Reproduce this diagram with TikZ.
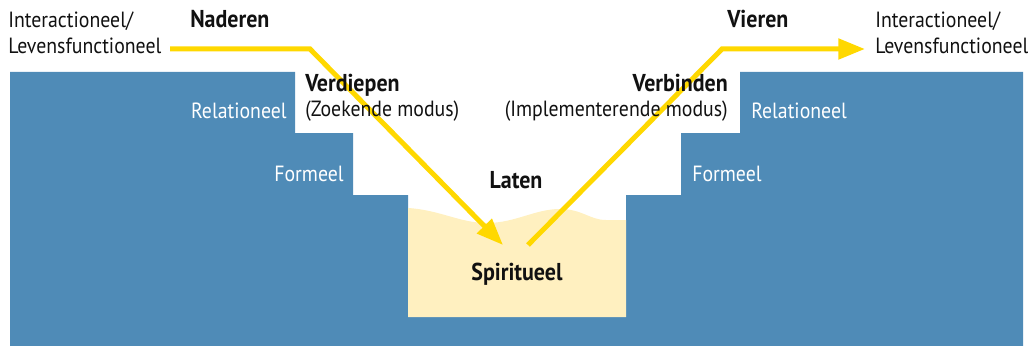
\documentclass[tikz,border=0pt]{standalone}
\usepackage{fontspec}
\setmainfont{PT Sans}[FakeStretch=0.9]
\usetikzlibrary{arrows.meta}
\definecolor{stepblue}{RGB}{79,139,183}
\definecolor{cream}{RGB}{255,240,192}
\definecolor{sunyellow}{RGB}{255,216,0}
\definecolor{inkblack}{RGB}{17,17,17}
\tikzset{
  txt/.style={font=\fontsize{16.5}{19.5}\selectfont, inner sep=0pt, text=inkblack},
  boldtxt/.style={txt, font=\fontsize{18.3}{19.5}\selectfont\bfseries},
  whitetxt/.style={txt, text=white},
  sunarrow/.style={draw=sunyellow, line width=3.75pt, line join=miter,
    -{Triangle[length=20pt,width=15pt]}},
}
\begin{document}
\begin{tikzpicture}[x=0.75pt,y=-0.75pt]
\useasboundingbox (0,0) rectangle (1028,346);
% blue stepped ground
\fill[stepblue] (10,72) -- (295,72) -- (295,133) -- (353,133) -- (353,195) -- (408,195)
  -- (408,317) -- (626,317) -- (626,195) -- (681,195) -- (681,133) -- (740,133)
  -- (740,72) -- (1023,72) -- (1023,346) -- (10,346) -- cycle;
% cream spiritual pool
\fill[cream] (408,208) .. controls (440,210) and (460,223) .. (487,223)
  .. controls (515,223) and (535,209) .. (560,209)
  .. controls (582,209) and (590,220) .. (606,220) -- (626,220)
  -- (626,317) -- (408,317) -- cycle;
% arrows
\coordinate (s1) at (170,49);
\coordinate (k1) at (310,49);
\coordinate (e1) at (503,245);
\coordinate (s2) at (528,245);
\coordinate (k2) at (722,49);
\coordinate (e2) at (865,49);
\draw[sunarrow] (s1) -- (k1) -- (e1);
\draw[sunarrow] (s2) -- (k2) -- (e2);
% texts left
\node[txt, anchor=base west] (lint) at (8,28) {Interactioneel/};
\node[txt, anchor=base west] (llev) at (8,54) {Levensfunctioneel};
\node[boldtxt, anchor=base west] (nad) at (190,28) {Naderen};
\node[boldtxt, anchor=base west] (ver) at (305,92) {Verdiepen};
\node[txt, anchor=base west] (zoek) at (305,117) {(Zoekende modus)};
\node[whitetxt, anchor=base east] (lrel) at (287,118) {Relationeel};
\node[whitetxt, anchor=base east] (lfor) at (344,181) {Formeel};
% centre
\node[boldtxt, anchor=base] (lat) at (516,188) {Laten};
\node[boldtxt, anchor=base] (spi) at (517,280) {Spiritueel};
% texts right
\node[boldtxt, anchor=base west] (vie) at (727,28) {Vieren};
\node[boldtxt, anchor=base east] (verb) at (728,92) {Verbinden};
\node[txt, anchor=base east] (impl) at (728,117) {(Implementerende modus)};
\node[whitetxt, anchor=base west] (rrel) at (751,118) {Relationeel};
\node[whitetxt, anchor=base west] (rfor) at (692,181) {Formeel};
\node[txt, anchor=base west] (rint) at (875,28) {Interactioneel/};
\node[txt, anchor=base west] (rlev) at (875,54) {Levensfunctioneel};
\end{tikzpicture}
\end{document}
